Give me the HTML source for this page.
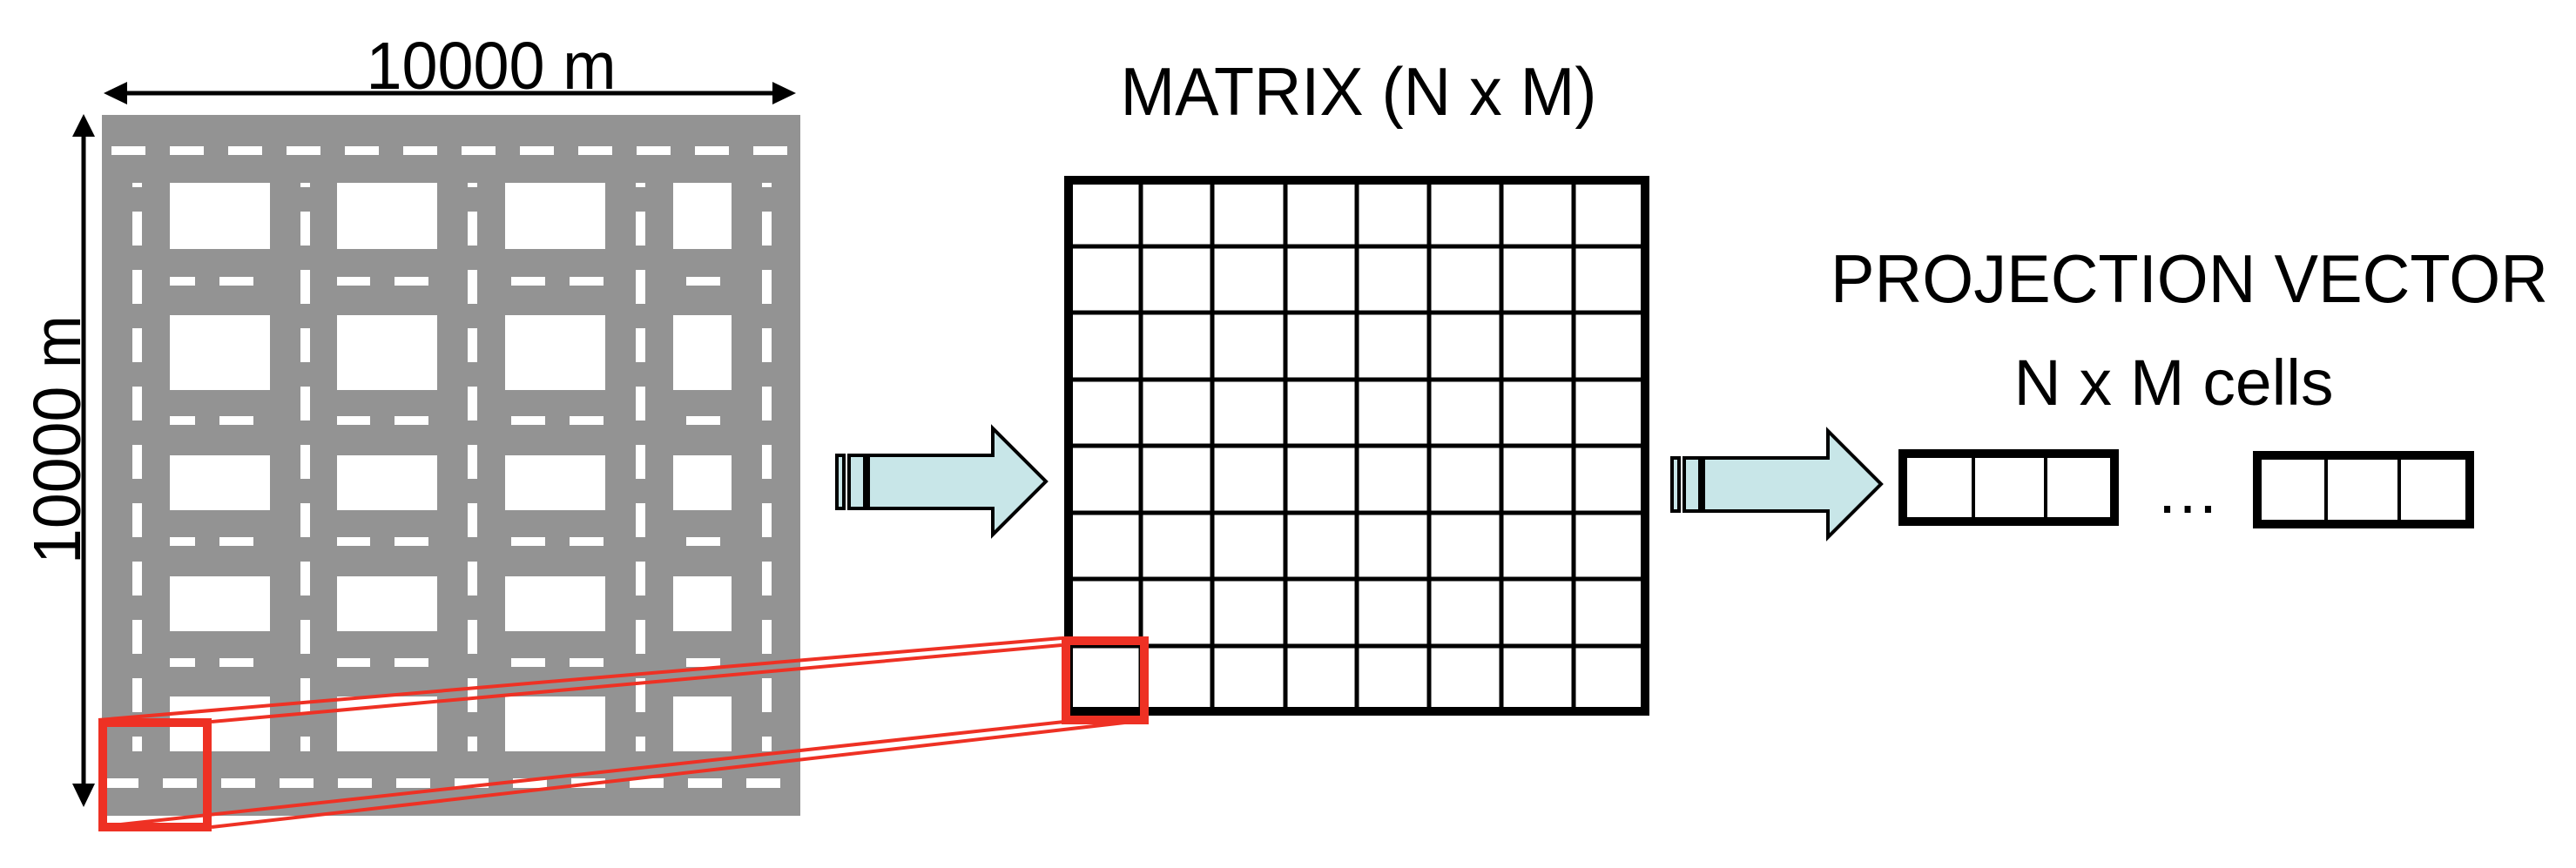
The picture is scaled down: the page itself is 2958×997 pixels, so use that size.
<!DOCTYPE html>
<html><head><meta charset="utf-8"><style>
html,body{margin:0;padding:0;background:#fff;}
svg{display:block;}
text{font-family:"Liberation Sans",Arial,sans-serif;fill:#000;}
</style></head><body>
<svg width="2958" height="997" viewBox="0 0 2958 997" xmlns="http://www.w3.org/2000/svg">
<defs>
<marker id="ah" viewBox="0 0 10 10" refX="9" refY="5" markerWidth="10" markerHeight="10" markerUnits="userSpaceOnUse"></marker>
</defs>
<!-- map -->
<rect x="117" y="132" width="802" height="805" fill="#939393"/>
<g fill="#fff">
<!-- blocks -->
<rect x="195" y="210" width="115" height="76"/><rect x="387" y="210" width="115" height="76"/><rect x="580" y="210" width="115" height="76"/><rect x="773" y="210" width="67" height="76"/>
<rect x="195" y="362" width="115" height="86"/><rect x="387" y="362" width="115" height="86"/><rect x="580" y="362" width="115" height="86"/><rect x="773" y="362" width="67" height="86"/>
<rect x="195" y="523" width="115" height="63"/><rect x="387" y="523" width="115" height="63"/><rect x="580" y="523" width="115" height="63"/><rect x="773" y="523" width="67" height="63"/>
<rect x="195" y="662" width="115" height="63"/><rect x="387" y="662" width="115" height="63"/><rect x="580" y="662" width="115" height="63"/><rect x="773" y="662" width="67" height="63"/>
<rect x="195" y="800" width="115" height="63"/><rect x="387" y="800" width="115" height="63"/><rect x="580" y="800" width="115" height="63"/><rect x="773" y="800" width="67" height="63"/>
<!-- top dashes -->
<rect x="128" y="168" width="39" height="10"/><rect x="195" y="168" width="39" height="10"/><rect x="262" y="168" width="39" height="10"/><rect x="329" y="168" width="39" height="10"/><rect x="396" y="168" width="39" height="10"/><rect x="463" y="168" width="39" height="10"/><rect x="530" y="168" width="39" height="10"/><rect x="597" y="168" width="39" height="10"/><rect x="664" y="168" width="39" height="10"/><rect x="731" y="168" width="39" height="10"/><rect x="798" y="168" width="39" height="10"/><rect x="865" y="168" width="39" height="10"/>
<!-- bottom dashes -->
<rect x="120" y="894" width="39" height="11"/><rect x="187" y="894" width="39" height="11"/><rect x="254" y="894" width="39" height="11"/><rect x="321" y="894" width="39" height="11"/><rect x="388" y="894" width="39" height="11"/><rect x="455" y="894" width="39" height="11"/><rect x="522" y="894" width="39" height="11"/><rect x="589" y="894" width="39" height="11"/><rect x="656" y="894" width="39" height="11"/><rect x="723" y="894" width="39" height="11"/><rect x="790" y="894" width="39" height="11"/><rect x="857" y="894" width="39" height="11"/>
<!-- inner horizontal dashes -->
<g id="hd">
<rect x="195" y="318" width="29" height="10"/><rect x="252" y="318" width="39" height="10"/><rect x="387" y="318" width="38" height="10"/><rect x="453" y="318" width="39" height="10"/><rect x="587" y="318" width="39" height="10"/><rect x="654" y="318" width="39" height="10"/><rect x="788" y="318" width="39" height="10"/>
</g>
<use href="#hd" y="160"/><use href="#hd" y="299"/><use href="#hd" y="438"/>
<!-- vertical dashes -->
<g id="vd">
<rect x="152" y="210" width="11" height="5"/><rect x="152" y="243" width="11" height="39"/><rect x="152" y="310" width="11" height="39"/><rect x="152" y="377" width="11" height="39"/><rect x="152" y="444" width="11" height="39"/><rect x="152" y="511" width="11" height="39"/><rect x="152" y="578" width="11" height="39"/><rect x="152" y="645" width="11" height="39"/><rect x="152" y="712" width="11" height="39"/><rect x="152" y="779" width="11" height="39"/><rect x="152" y="846" width="11" height="17"/>
</g>
<use href="#vd" x="193"/><use href="#vd" x="385"/><use href="#vd" x="578"/><use href="#vd" x="723"/>
</g>
<!-- dimension arrows -->
<line x1="140" y1="107" x2="892" y2="107" stroke="#000" stroke-width="5"/>
<polygon points="119,107 146,94 146,120" fill="#000"/>
<polygon points="914,107 887,94 887,120" fill="#000"/>
<line x1="96" y1="150" x2="96" y2="905" stroke="#000" stroke-width="5"/>
<polygon points="96,131 83,157 109,157" fill="#000"/>
<polygon points="96,927 83,900 109,900" fill="#000"/>
<text x="564" y="102" font-size="77" text-anchor="middle" textLength="287" lengthAdjust="spacingAndGlyphs">10000 m</text>
<text x="505" y="92" font-size="77" text-anchor="middle" transform="rotate(-90 92 505) translate(-413 413)" textLength="286" lengthAdjust="spacingAndGlyphs">10000 m</text>
<!-- red connectors -->
<g stroke="#ee3124" stroke-width="4" fill="none">
<line x1="113" y1="827" x2="1219" y2="733"/>
<line x1="243" y1="829" x2="1219" y2="741"/>
<line x1="120" y1="949" x2="1222" y2="829"/>
<line x1="243" y1="950" x2="1300" y2="829"/>
</g>
<rect x="118" y="830" width="120" height="120" fill="none" stroke="#ee3124" stroke-width="10"/>
<!-- matrix -->
<g stroke="#000" stroke-width="5">
<line x1="1310" y1="207" x2="1310" y2="818"/><line x1="1392" y1="207" x2="1392" y2="818"/><line x1="1476" y1="207" x2="1476" y2="818"/><line x1="1558" y1="207" x2="1558" y2="818"/><line x1="1641" y1="207" x2="1641" y2="818"/><line x1="1724" y1="207" x2="1724" y2="818"/><line x1="1807" y1="207" x2="1807" y2="818"/>
<line x1="1227" y1="283" x2="1889" y2="283"/><line x1="1227" y1="359" x2="1889" y2="359"/><line x1="1227" y1="436" x2="1889" y2="436"/><line x1="1227" y1="512" x2="1889" y2="512"/><line x1="1227" y1="589" x2="1889" y2="589"/><line x1="1227" y1="665" x2="1889" y2="665"/><line x1="1227" y1="742" x2="1889" y2="742"/>
</g>
<rect x="1227" y="207" width="662" height="610" fill="none" stroke="#000" stroke-width="10"/>
<rect x="1224" y="736" width="90" height="91" fill="none" stroke="#ee3124" stroke-width="10"/>
<text x="1560" y="132" font-size="78" text-anchor="middle" textLength="547" lengthAdjust="spacingAndGlyphs">MATRIX (N x M)</text>
<!-- arrows -->
<g id="arr" fill="#c8e6e8" stroke="#000" stroke-width="4">
<rect x="961" y="523" width="8" height="61"/>
<rect x="975" y="523" width="18" height="61"/>
<polygon points="997,523 1140,523 1140,492 1201,553 1140,614 1140,584 997,584"/>
</g>
<use href="#arr" x="959" y="3"/>
<!-- projection vector -->
<text x="2514" y="347" font-size="78" text-anchor="middle" textLength="824" lengthAdjust="spacingAndGlyphs">PROJECTION VECTOR</text>
<text x="2496" y="465" font-size="74" text-anchor="middle" textLength="367" lengthAdjust="spacingAndGlyphs">N x M cells</text>
<g stroke="#000" fill="none">
<rect x="2185" y="521" width="243" height="78" stroke-width="10"/>
<line x1="2266" y1="521" x2="2266" y2="599" stroke-width="4"/>
<line x1="2349" y1="521" x2="2349" y2="599" stroke-width="4"/>
<rect x="2592" y="523" width="244" height="79" stroke-width="10"/>
<line x1="2671" y1="523" x2="2671" y2="602" stroke-width="4"/>
<line x1="2755" y1="523" x2="2755" y2="602" stroke-width="4"/>
</g>
<text x="2512" y="589" font-size="74" text-anchor="middle">…</text>
</svg>
</body></html>
